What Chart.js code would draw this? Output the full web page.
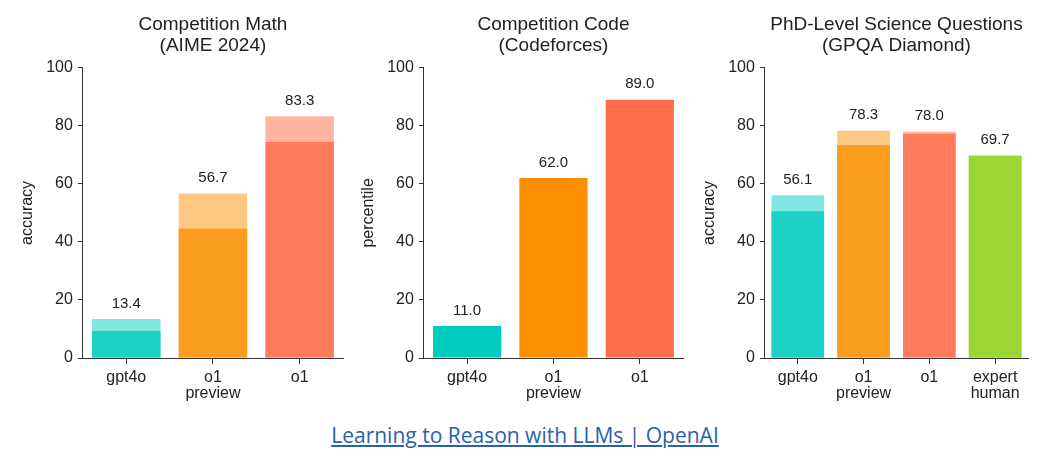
<!DOCTYPE html>
<html>
<head>
<meta charset="utf-8">
<script src="https://cdn.jsdelivr.net/npm/chart.js@4"></script>
<style>
  body { margin: 0; background: #fff; width: 1050px; height: 456px; position: relative; overflow: hidden; }
  .box { position: absolute; top: 0; width: 350px; height: 411px; }
  #link { position: absolute; left: 0; width: 1050px; top: 421px; text-align: center;
          font-family: "Open Sans", sans-serif; font-size: 21px; color: #2a62aa; text-decoration: underline; }
</style>
</head>
<body>
<div class="box" style="left:0"><canvas id="mathChart"></canvas></div>
<div class="box" style="left:350px"><canvas id="codeChart"></canvas></div>
<div class="box" style="left:700px"><canvas id="gpqaChart"></canvas></div>
<div id="link">Learning to Reason with LLMs | OpenAI</div>
<script>
// data
const mathLabels = ["gpt4o", ["o1", "preview"], "o1"];
const mathTotal = [13.4, 56.7, 83.3];
const mathBase = [9.3, 44.6, 74.4];

const codeLabels = ["gpt4o", ["o1", "preview"], "o1"];
const codeTotal = [11.0, 62.0, 89.0];

const gpqaLabels = ["gpt4o", ["o1", "preview"], "o1", ["expert", "human"]];
const gpqaTotal = [56.1, 78.3, 78.0, 69.7];
const gpqaBase = [50.6, 73.3, 77.3, 69.7];

const yTicks = [0, 20, 40, 60, 80, 100];

const darkColors = ["#1bd1c5", "#fa9d1e", "#ff7b5c", "#9bd633"];
const lightColors = ["#80e6df", "#fec882", "#ffb4a0", "#9bd633"];
const codeColors = ["#00cbbf", "#fb8f00", "#fe6e4a"];

const FONT = "'Liberation Sans', Arial, sans-serif";
const TEXT = "#222";

// draws the total value above each bar
const totalLabels = {
  id: "totalLabels",
  afterDatasetsDraw(chart) {
    const ctx = chart.ctx;
    const meta = chart.getDatasetMeta(0);
    const values = chart.data.datasets[0].data;
    ctx.save();
    ctx.font = "15px " + FONT;
    ctx.fillStyle = TEXT;
    ctx.textAlign = "center";
    ctx.textBaseline = "bottom";
    meta.data.forEach((bar, i) => {
      ctx.fillText(values[i].toFixed(1), bar.x, bar.y - 8);
    });
    ctx.restore();
  }
};

function makeChart(id, title, yTitle, labels, total, base, light, dark, pad, barPct) {
  const datasets = [{
    data: total,
    backgroundColor: light,
    order: 1,
    barPercentage: barPct,
    categoryPercentage: 1
  }];
  if (base) {
    datasets.push({
      data: base,
      backgroundColor: dark,
      order: 0,
      barPercentage: barPct,
      categoryPercentage: 1
    });
  }
  new Chart(document.getElementById(id), {
    type: "bar",
    data: { labels: labels, datasets: datasets },
    options: {
      responsive: true,
      maintainAspectRatio: false,
      animation: false,
      layout: { padding: pad },
      plugins: {
        legend: { display: false },
        tooltip: { enabled: false },
        title: {
          display: true,
          text: title,
          fullSize: false,
          color: TEXT,
          font: { family: FONT, size: 19, weight: "normal", lineHeight: 1.1 },
          padding: { top: 0, bottom: 12 }
        }
      },
      scales: {
        x: {
          stacked: true,
          border: { display: true, color: "#333", width: 1 },
          grid: { display: true, drawOnChartArea: false, offset: false, tickLength: 6, color: "#333" },
          ticks: { color: TEXT, padding: 6, font: { family: FONT, size: 16, lineHeight: 1.0 } }
        },
        y: {
          stacked: false,
          min: 0,
          max: 100,
          afterBuildTicks: (axis) => { axis.ticks = yTicks.map((v) => ({ value: v })); },
          border: { display: true, color: "#333", width: 1 },
          grid: { display: true, drawOnChartArea: false, tickLength: 5, color: "#333" },
          ticks: { color: TEXT, padding: 5, font: { family: FONT, size: 16 } },
          title: { display: true, text: yTitle, color: TEXT, padding: { top: 0, bottom: 4 },
                   font: { family: FONT, size: 16 } }
        }
      }
    },
    plugins: [totalLabels]
  });
}

makeChart("mathChart", ["Competition Math", "(AIME 2024)"], "accuracy",
  mathLabels, mathTotal, mathBase, lightColors, darkColors,
  { left: 18, right: 7, top: 14, bottom: 3 }, 0.79);
makeChart("codeChart", ["Competition Code", "(Codeforces)"], "percentile",
  codeLabels, codeTotal, null, codeColors, codeColors,
  { left: 9, right: 17, top: 14, bottom: 3 }, 0.79);
makeChart("gpqaChart", ["PhD-Level Science Questions", "(GPQA Diamond)"], "accuracy",
  gpqaLabels, gpqaTotal, gpqaBase, lightColors, darkColors,
  { left: 0, right: 22, top: 14, bottom: 3 }, 0.8);
</script>
</body>
</html>
